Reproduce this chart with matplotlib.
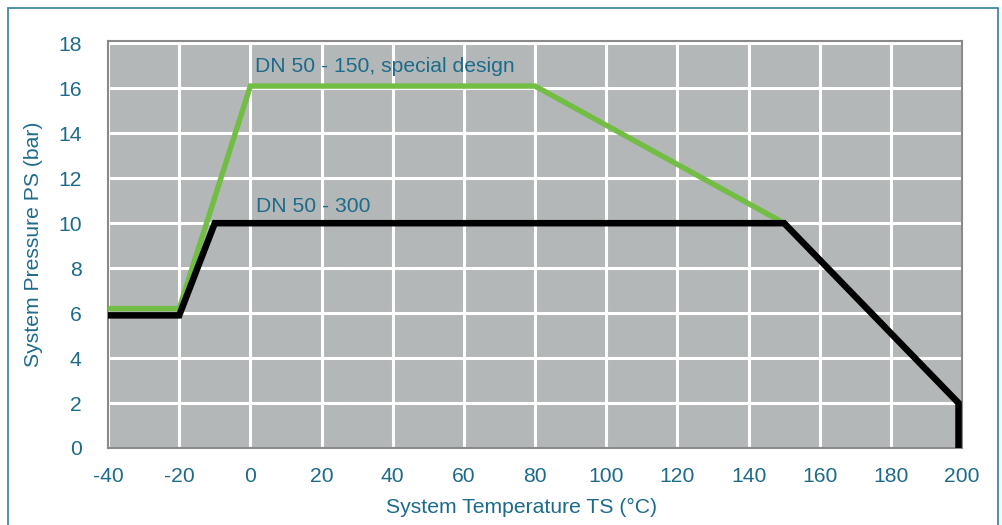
import matplotlib.pyplot as plt
from matplotlib.patches import Rectangle

plt.rcParams['font.family'] = ['Liberation Sans', 'DejaVu Sans']
plt.rcParams['axes.unicode_minus'] = False

# pressure/temperature limits
temp_special = [-40, -20, 0, 80, 150]
press_special = [6.2, 6.2, 16.1, 16.1, 10.0]

temp_std = [-40, -20, -10, 150, 199, 199]
press_std = [5.9, 5.9, 10.0, 10.0, 2.0, -0.3]

xticks = list(range(-40, 201, 20))
yticks = list(range(0, 19, 2))

teal = '#1d6b8a'
bg = '#b4b7b8'
fs = 15.2

fig = plt.figure(figsize=(10.03, 5.25), dpi=100)
ax = fig.add_axes([0.1077, 0.1467, 0.8515, 0.775])

ax.set_facecolor(bg)
ax.plot(temp_special, press_special, color='#72be44', lw=3.9, solid_capstyle='butt',
        solid_joinstyle='miter', zorder=3)
ax.plot(temp_std, press_std, color='black', lw=4.7, solid_capstyle='butt',
        solid_joinstyle='miter', zorder=4)

ax.set_xlim(-40, 200)
ax.set_ylim(0, 18.1)
ax.set_xticks(xticks)
ax.set_yticks(yticks)
ax.grid(True, color='white', lw=2.2)
ax.set_axisbelow(True)
ax.tick_params(length=0, colors=teal, labelsize=fs)
ax.tick_params(axis='y', pad=19)
ax.tick_params(axis='x', pad=14)
for s in ax.spines.values():
    s.set_color('#8a8a8a')
    s.set_linewidth(1.5)

ax.set_xlabel('System Temperature TS (°C)', color=teal, fontsize=fs, labelpad=8)
ax.xaxis.label.set_x(0.484)
ax.set_ylabel('System Pressure PS (bar)', color=teal, fontsize=fs, labelpad=11)

ax.text(1.4, 16.95, 'DN 50 - 150, special design', color=teal, fontsize=fs,
        va='center', ha='left', zorder=5)
ax.text(1.6, 10.75, 'DN 50 - 300', color=teal, fontsize=fs,
        va='center', ha='left', zorder=5)

# outer frame of the figure
fig.patches.append(Rectangle((8 / 1003, -0.05), 990 / 1003, 1 - 8 / 525 + 0.05,
                             transform=fig.transFigure, fill=False,
                             edgecolor='#2f7f9c', lw=1.2))

fig.savefig('out.png', dpi=100)
